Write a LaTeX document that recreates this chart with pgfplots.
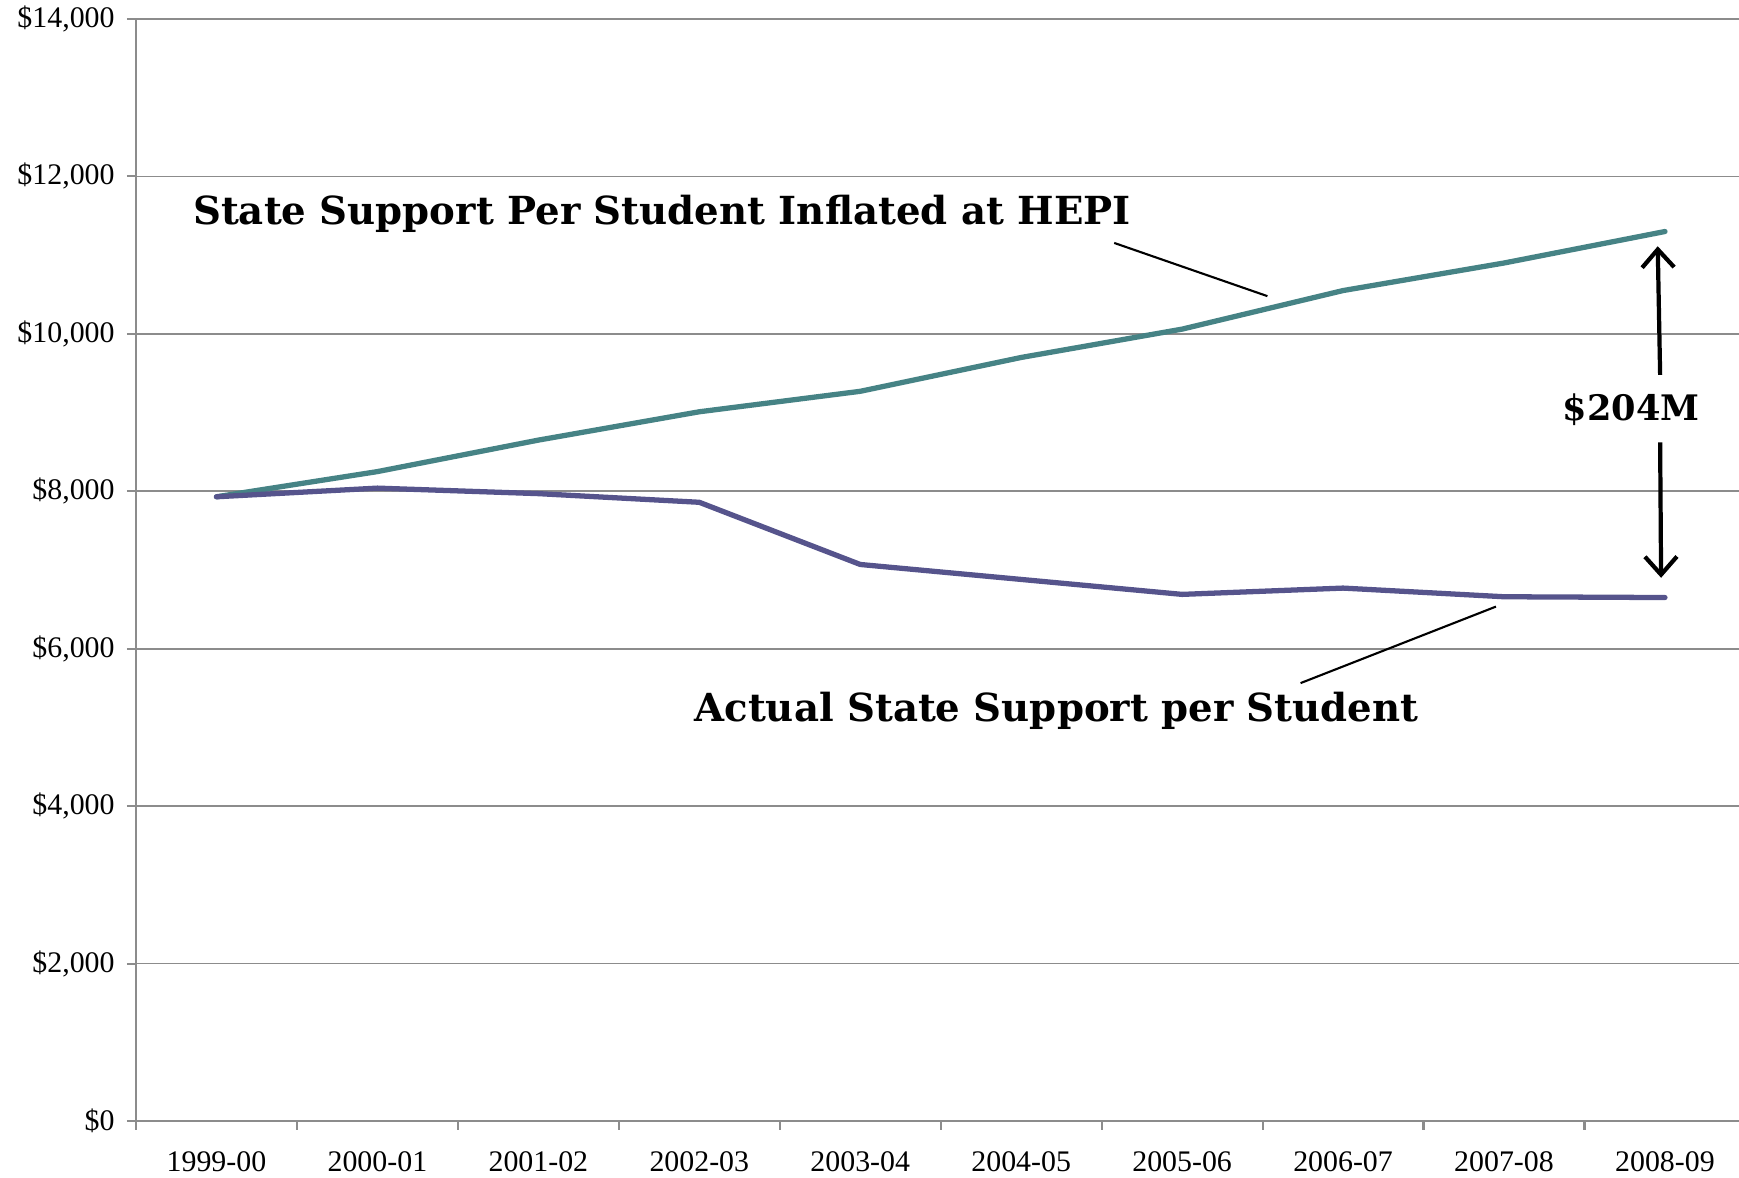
\documentclass[border=0pt]{standalone}
\usepackage{pgfplots}
\pgfplotsset{compat=1.18}
\usepackage{fontspec}
\setmainfont{Liberation Serif}
\newfontfamily\annfont{DejaVu Serif}
\usetikzlibrary{arrows.meta}
\definecolor{hepi}{RGB}{70,131,133}
\definecolor{actual}{RGB}{86,84,140}
\definecolor{gridgray}{RGB}{140,140,140}
\begin{document}
\begin{tikzpicture}
\begin{axis}[name=ax, scale only axis, width=160.3mm, height=110.2mm,
  xmin=-0.5, xmax=9.46, ymin=0, ymax=14000,
  axis x line=bottom, axis y line=left,
  axis line style={-, draw=gridgray, line width=0.6pt},
  xtick={0,...,9},
  xticklabels={1999-00,2000-01,2001-02,2002-03,2003-04,2004-05,2005-06,2006-07,2007-08,2008-09},
  major x tick style={draw=none},
  minor xtick={-0.5,0.5,...,8.5},
  minor x tick style={draw=gridgray, line width=0.6pt},
  minor tick length=0.9mm,
  tick align=outside,
  ytick={0,2000,...,14000},
  yticklabels={{\$0},{\$2,000},{\$4,000},{\$6,000},{\$8,000},{\$10,000},{\$12,000},{\$14,000}},
  major tick length=0.9mm,
  y tick style={draw=gridgray, line width=0.6pt},
  ymajorgrids, grid style={draw=gridgray, line width=0.5pt},
  tick label style={font=\fontsize{8.5}{10}\selectfont},
  xticklabel style={yshift=-0.95mm},
  clip=false,
]
\addplot[hepi, line width=1.5pt, line cap=round, line join=round] coordinates {(0,7930) (1,8250) (2,8650) (3,9010) (4,9270) (5,9700) (6,10060) (7,10550) (8,10900) (9,11300)};
\addplot[actual, line width=1.5pt, line cap=round, line join=round] coordinates {(0,7930) (1,8040) (2,7970) (3,7860) (4,7070) (5,6880) (6,6690) (7,6770) (8,6660) (9,6650)};
\node[anchor=west, inner sep=0, font=\annfont\bfseries\fontsize{11}{13}\selectfont] at (axis cs:-0.149,11520) {State Support Per Student Inflated at HEPI};
\draw[line width=0.6pt] (axis cs:5.578,11155) -- (axis cs:6.53,10479);
\node[anchor=west, inner sep=0, font=\annfont\bfseries\fontsize{11}{13}\selectfont] at (axis cs:2.966,5211) {Actual State Support per Student};
\draw[line width=0.6pt] (axis cs:6.736,5563) -- (axis cs:7.95,6535);
\node[inner sep=0, font=\annfont\bfseries\fontsize{10}{12}\selectfont] at (axis cs:8.79,9042) {\$204M};
\draw[-{Straight Barb[length=1.8mm,width=3.2mm]}, line width=1.2pt] (axis cs:8.97,9479) -- (axis cs:8.955,11113);
\draw[-{Straight Barb[length=1.8mm,width=3.2mm]}, line width=1.2pt] (axis cs:8.97,8620) -- (axis cs:8.976,6901);
\end{axis}
\pgfresetboundingbox
\path[use as bounding box] ([xshift=-13.6mm,yshift=-5.7mm]ax.south west) rectangle ([yshift=1.9mm]ax.north east);
\end{tikzpicture}
\end{document}
